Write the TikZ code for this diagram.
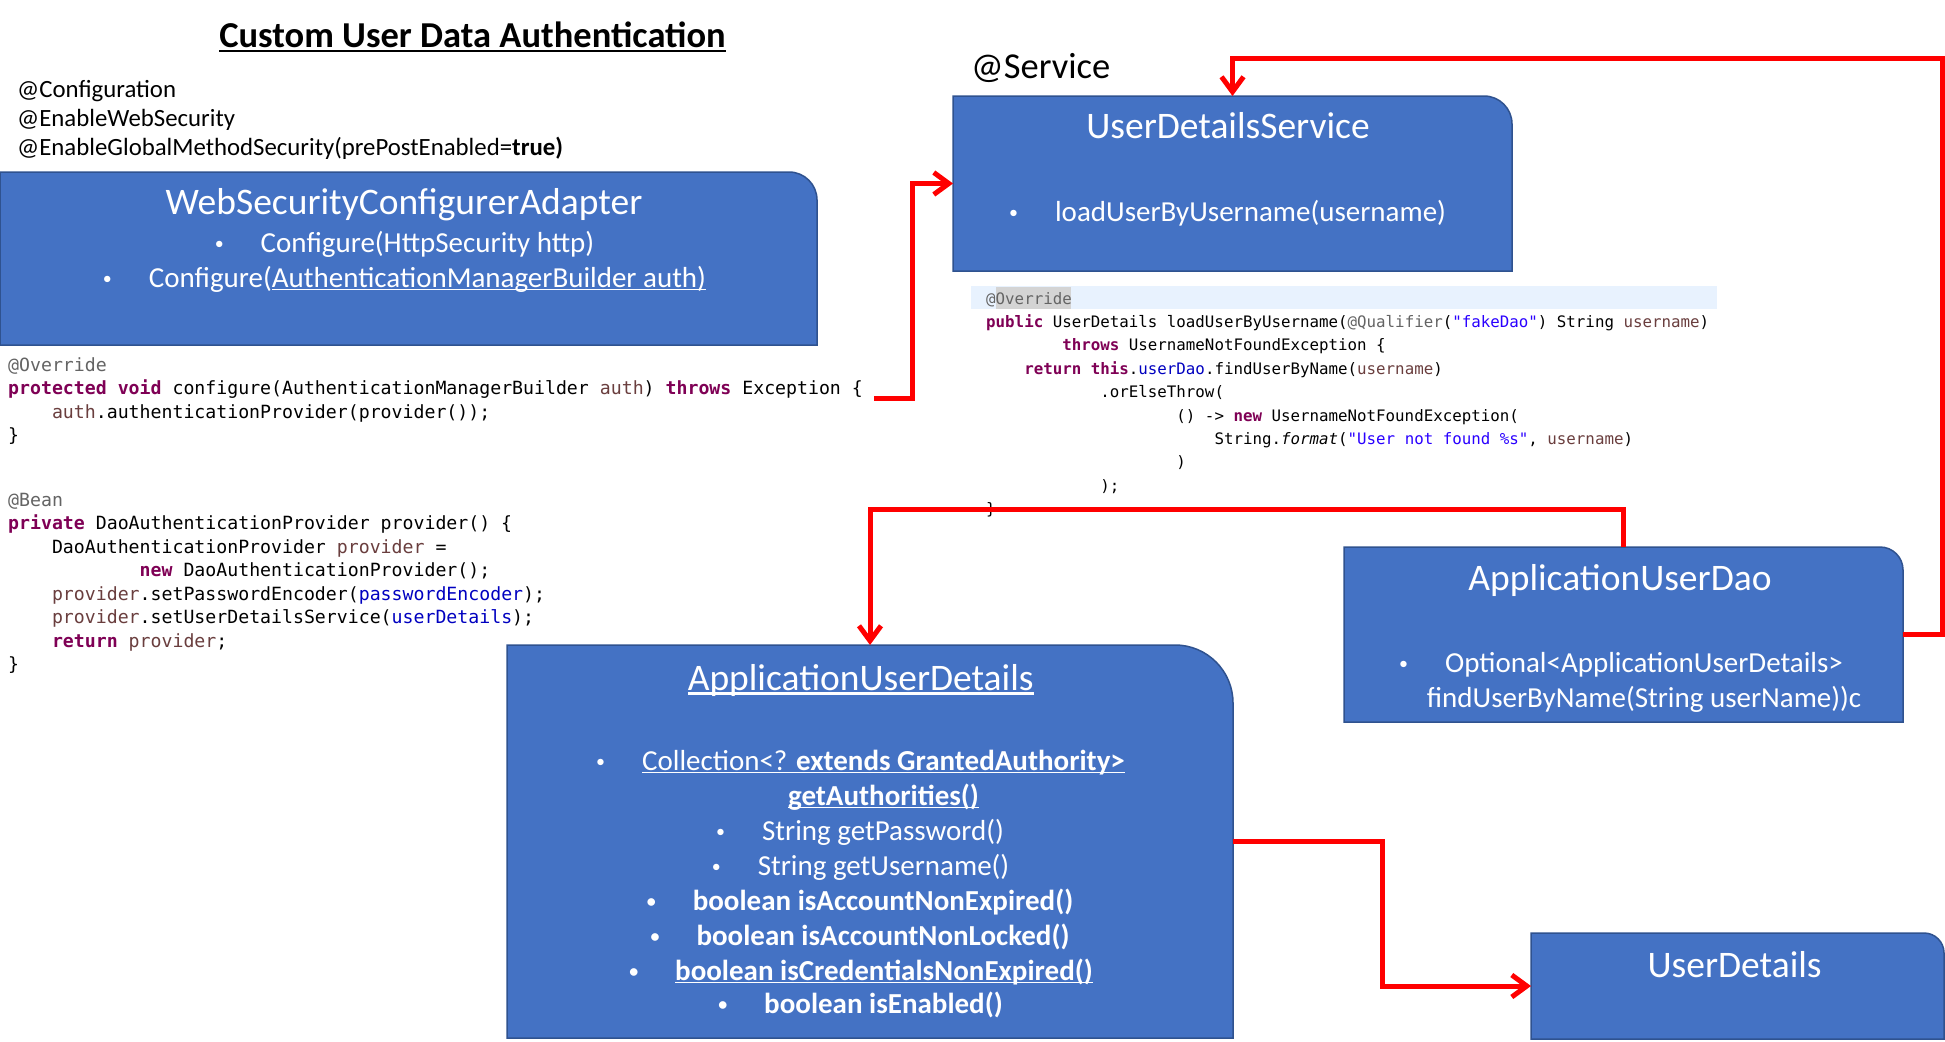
\documentclass[tikz,border=0pt]{standalone}
\usepackage{fontspec}
\usepackage{graphicx}
\setmainfont{Carlito}
\newfontfamily\codefont{DejaVu Sans Mono}
\usetikzlibrary{arrows.meta}
\definecolor{boxblue}{HTML}{4472C4}
\definecolor{boxedge}{HTML}{2F528F}
\definecolor{kw}{HTML}{7F0055}
\definecolor{ann}{HTML}{646464}
\definecolor{lv}{HTML}{6A3E3E}
\definecolor{fld}{HTML}{0000C0}
\definecolor{str}{HTML}{2A00FF}
\definecolor{codeband}{HTML}{E8F2FE}
\definecolor{annhl}{HTML}{D4D4D4}
\definecolor{connred}{HTML}{FF0000}
\newcommand\kwf{\color{kw}\bfseries}
\newcommand\cind[1]{\hspace*{#1\fontcharwd\font`x}}
\newcommand\myul[1]{\setbox0\hbox{#1}\rlap{\rule[-0.12em]{\wd0}{0.06em}}\box0}
\newcommand\bul{\llap{\raisebox{0.09em}{\scalebox{0.62}{•}}\hspace{37pt}}}
\newcommand\tabbox[2]{\draw[boxdraw] (#1.south west) -- (#1.north west) -- ([xshift=-#2pt]#1.north east) arc[start angle=90,end angle=0,radius=#2pt] -- (#1.south east) -- cycle;}
\tikzset{
  boxnode/.style={inner sep=0pt, outer sep=0pt, draw=none, rectangle},
  boxdraw/.style={fill=boxblue, draw=boxedge, line width=1.5pt},
  ttl/.style={text=white, font=\fontsize{37.5}{45}\selectfont, inner sep=0pt, anchor=base},
  bl/.style={text=white, font=\fontsize{29}{35}\selectfont, inner sep=0pt, anchor=base},
  annot/.style={font=\fontsize{24.8}{30}\selectfont, inner sep=0pt, anchor=base west},
  codeA/.style={font=\codefont\fontsize{18.2}{23.5}\selectfont, inner sep=0pt, anchor=base west},
  codeB/.style={font=\codefont\fontsize{15.8}{23.4}\selectfont, inner sep=0pt, anchor=base west},
  conn/.style={draw=connred, line width=5pt, -{Straight Barb[length=15pt,width=22pt]}},
}
\begin{document}
\begin{tikzpicture}[x=1pt,y=-1pt]
\useasboundingbox (0,0) rectangle (1945,1041);
\fill[white] (0,0) rectangle (1945,1041);

% ---------- boxes ----------
\node[boxnode, minimum width=817pt, minimum height=173pt] (wsca) at (408.5,258.5) {};
\node[boxnode, minimum width=559pt, minimum height=175pt] (uds) at (1232.5,183.5) {};
\node[boxnode, minimum width=726pt, minimum height=393pt] (aud) at (870,841.5) {};
\node[boxnode, minimum width=559pt, minimum height=175pt] (audao) at (1623.5,634.5) {};
\node[boxnode, minimum width=413pt, minimum height=106pt] (ud) at (1737.5,986) {};
\tabbox{wsca}{28}
\tabbox{uds}{28}
\tabbox{aud}{58}
\tabbox{audao}{23}
\tabbox{ud}{20}

% ---------- headings ----------
\node[inner sep=0pt, anchor=base, font=\fontsize{36.5}{44}\selectfont\bfseries] (title) at (472.5,48) {\myul{Custom User Data Authentication}};
\node[annot] (an1) at (17,97) {@Configuration};
\node[annot] (an2) at (17,126) {@EnableWebSecurity};
\node[annot] (an3) at (17,155) {@EnableGlobalMethodSecurity(prePostEnabled=\textbf{true)}};
\node[inner sep=0pt, anchor=base west, font=\fontsize{36.5}{44}\selectfont] (svc) at (971,78) {@Service};

% ---------- WebSecurityConfigurerAdapter ----------
\node[ttl] (wscaT) at (404,214) {WebSecurityConfigurerAdapter};
\node[bl] (wscaA) at (427.5,252) {\bul Configure(HttpSecurity http)};
\node[bl] (wscaB) at (427.5,287) {\bul Configure(\myul{AuthenticationManagerBuilder auth)}};

% ---------- UserDetailsService ----------
\node[ttl] (udsT) at (1228,138) {UserDetailsService};
\node[bl] (udsA) at (1250.5,221) {\bul loadUserByUsername(username)};

% ---------- ApplicationUserDetails ----------
\node[ttl] (audT) at (860.7,690) {\myul{ApplicationUserDetails}};
\node[bl] (aud1) at (883.5,770) {\bul\myul{Collection<? \textbf{extends GrantedAuthority>}}};
\node[bl] (aud1b) at (883.5,805) {\myul{\textbf{getAuthorities()}}};
\node[bl] (aud2) at (883,840) {\bul String getPassword()};
\node[bl] (aud3) at (883.5,875) {\bul String getUsername()};
\node[bl, font=\fontsize{29}{35}\selectfont\bfseries] (aud4) at (883,910) {\bul boolean isAccountNonExpired()};
\node[bl, font=\fontsize{29}{35}\selectfont\bfseries] (aud5) at (883,945) {\bul boolean isAccountNonLocked()};
\node[bl, font=\fontsize{29}{35}\selectfont\bfseries] (aud6) at (884,980) {\bul\myul{boolean isCredentialsNonExpired()}};
\node[bl, font=\fontsize{29}{35}\selectfont\bfseries] (aud7) at (883.5,1013) {\bul boolean isEnabled()};

% ---------- ApplicationUserDao ----------
\node[ttl] (audaoT) at (1620,590) {ApplicationUserDao};
\node[bl] (audaoA) at (1644,672) {\bul Optional<ApplicationUserDetails>};
\node[bl] (audaoB) at (1644,707) {findUserByName(String userName))c};

% ---------- UserDetails ----------
\node[ttl] (udT) at (1734.6,977) {UserDetails};

% ---------- code block 1 ----------
\node[codeA] (ca1) at (8,371) {{\color{ann}@Override}};
\node[codeA] (ca2) at (8,394.5) {{\kwf protected} {\kwf void} configure(AuthenticationManagerBuilder {\color{lv}auth}) {\kwf throws} Exception \{};
\node[codeA] (ca3) at (8,418) {\cind{4}{\color{lv}auth}.authenticationProvider(provider());};
\node[codeA] (ca4) at (8,441.5) {\}};
\node[codeA] (cb1) at (8,506) {{\color{ann}@Bean}};
\node[codeA] (cb2) at (8,529.5) {{\kwf private} DaoAuthenticationProvider provider() \{};
\node[codeA] (cb3) at (8,553) {\cind{4}DaoAuthenticationProvider {\color{lv}provider} =};
\node[codeA] (cb4) at (8,576.5) {\cind{12}{\kwf new} DaoAuthenticationProvider();};
\node[codeA] (cb5) at (8,600) {\cind{4}{\color{lv}provider}.setPasswordEncoder({\color{fld}passwordEncoder});};
\node[codeA] (cb6) at (8,623.5) {\cind{4}{\color{lv}provider}.setUserDetailsService({\color{fld}userDetails});};
\node[codeA] (cb7) at (8,647) {\cind{4}{\kwf return} {\color{lv}provider};};
\node[codeA] (cb8) at (8,670.5) {\}};

% ---------- code block 2 ----------
\fill[codeband] (971,286) rectangle (1717,309);
\fill[annhl] (996,287) rectangle (1071,309);
\node[codeB] (cc1) at (986,304) {{\color{ann}@Override}};
\node[codeB] (cc2) at (986,327.4) {{\kwf public} UserDetails loadUserByUsername({\color{ann}@Qualifier}({\color{str}"fakeDao"}) String {\color{lv}username})};
\node[codeB] (cc3) at (986,350.8) {\cind{8}{\kwf throws} UsernameNotFoundException \{};
\node[codeB] (cc4) at (986,374.2) {\cind{4}{\kwf return} {\kwf this}.{\color{fld}userDao}.findUserByName({\color{lv}username})};
\node[codeB] (cc5) at (986,397.6) {\cind{12}.orElseThrow(};
\node[codeB] (cc6) at (986,421) {\cind{20}() -> {\kwf new} UsernameNotFoundException(};
\node[codeB] (cc7) at (986,444.4) {\cind{24}String.\textit{format}({\color{str}"User not found \%s"}, {\color{lv}username})};
\node[codeB] (cc8) at (986,467.8) {\cind{20})};
\node[codeB] (cc9) at (986,491.2) {\cind{12});};
\node[codeB] (cc10) at (986,514.6) {\}};

% ---------- connectors ----------
\coordinate (c1s) at ([shift={(11,4)}]ca2.base east);
\draw[conn] (c1s) -| ([xshift=-41pt]uds.west) -- (uds.west);
\draw[conn] (audao.north) -- ++(0,-38) -| (aud.north);
\draw[conn] (audao.east) -- ++(39,0) |- ([yshift=37pt]uds.north) -- (uds.north);
\draw[conn] (aud.east) -| ([xshift=-149pt]ud.west) -- (ud.west);
\end{tikzpicture}
\end{document}
